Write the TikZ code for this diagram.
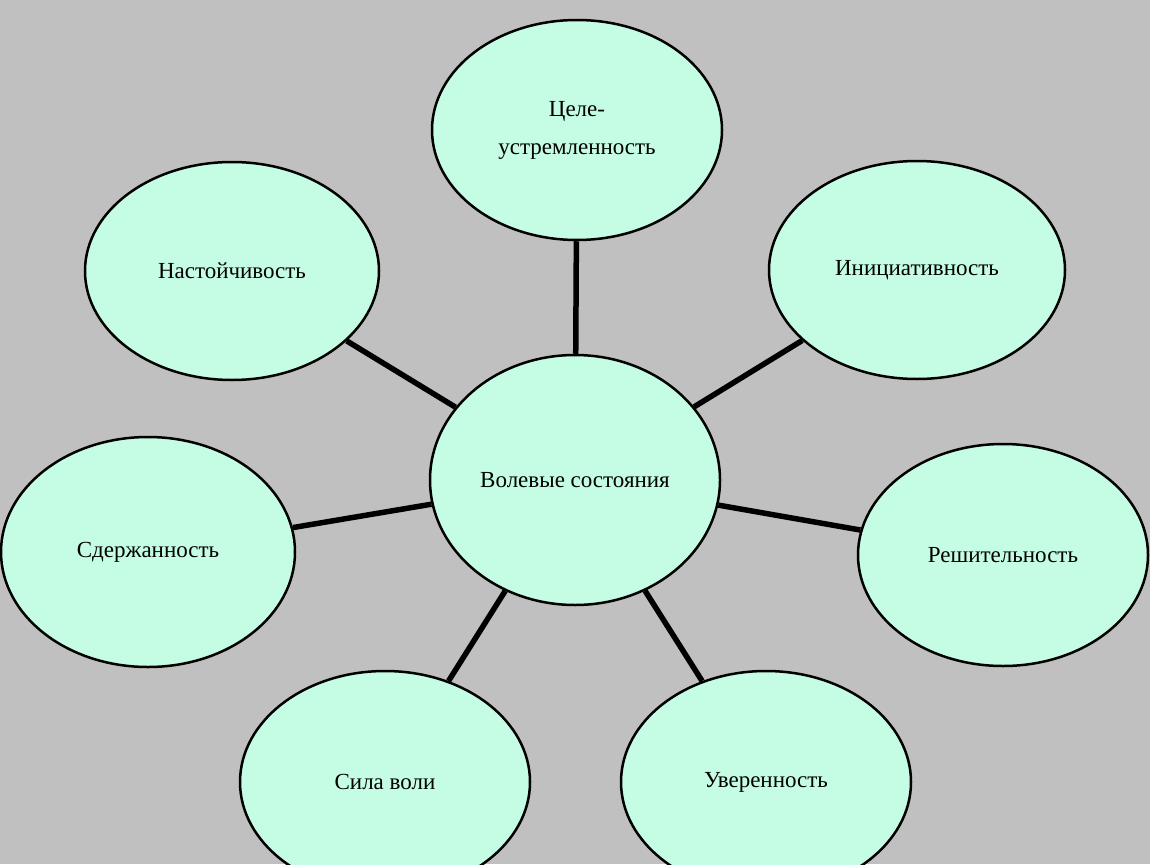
\documentclass[tikz,border=0pt]{standalone}
\usepackage{fontspec}
\setmainfont{Liberation Serif}
\usetikzlibrary{shapes.geometric}
\definecolor{bg}{RGB}{192,192,192}
\definecolor{mint}{RGB}{196,252,228}
\begin{document}
\begin{tikzpicture}[x=1pt,y=-1pt,
  el/.style={ellipse,draw=black,line width=2.5pt,fill=mint,inner sep=0pt,font=\fontsize{23}{38}\selectfont,align=center},
  ln/.style={line width=5.5pt,black}]
\fill[bg] (0,0) rectangle (1150,864);
\useasboundingbox (0,0) rectangle (1150,864);
\node[el,minimum width=290,minimum height=250] (c) at (575,480) {Волевые состояния};
\node[el,minimum width=290,minimum height=220] (t) at (577,130) {Целе-\\устремленность};
\node[el,minimum width=294,minimum height=218] (n) at (232,271) {Настойчивость};
\node[el,minimum width=296,minimum height=218] (i) at (917,270) {Инициативность};
\node[el,minimum width=294,minimum height=230] (s) at (148,552) {Сдержанность};
\node[el,minimum width=290,minimum height=222] (r) at (1003,555) {Решительность};
\node[el,minimum width=290,minimum height=222] (v) at (385,782) {Сила воли};
\node[el,minimum width=290,minimum height=222] (u) at (766,782) {Уверенность};
\draw[ln] (t) -- (c);
\draw[ln] (n) -- (c);
\draw[ln] (i) -- (c);
\draw[ln] (s) -- (c);
\draw[ln] (r) -- (c);
\draw[ln] (v) -- (c);
\draw[ln] (u) -- (c);
\end{tikzpicture}
\end{document}
